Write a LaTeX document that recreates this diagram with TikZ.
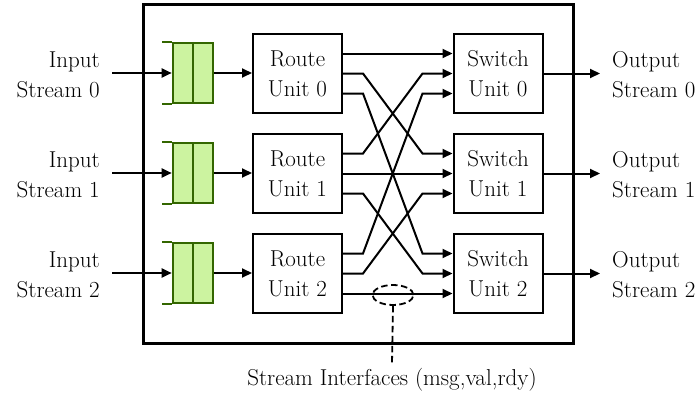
\documentclass[tikz,border=0pt]{standalone}
\usepackage{fontspec}
\usetikzlibrary{arrows.meta,calc,shapes.geometric}
\definecolor{qfill}{HTML}{CCF3A0}
\definecolor{qdraw}{HTML}{336600}
\begin{document}
\begin{tikzpicture}[x=1pt,y=-1pt,
  every node/.style={font=\fontsize{23}{30}\selectfont},
  >={Triangle[length=10pt,width=9pt]},
  wire/.style={line width=2pt},
  unitbox/.style={draw,line width=2pt,minimum width=89pt,minimum height=79pt,
    inner sep=0pt,align=center},
  queuebox/.style={draw=qdraw,fill=qfill,line width=2pt,minimum width=40.6pt,
    minimum height=60pt,inner sep=0pt},
  qline/.style={draw=qdraw,line width=2pt},
  bundle/.style={draw,dashed,dash pattern=on 6.5pt off 3.5pt,line width=1.8pt,
    ellipse,minimum width=41pt,minimum height=20pt,inner sep=0pt}]
\useasboundingbox (0,0) rectangle (700,396);

% enclosing block
\draw[line width=3pt] (143,5) rectangle (573,343);

\foreach \i in {0,1,2}{
  % input queue, route unit, switch unit
  \node[queuebox] (q\i) at (193,{73+100*\i}) {};
  \draw[qline] (q\i.north) -- (q\i.south);
  \draw[qline] (q\i.north west) -- ++(-10,0);
  \draw[qline] (q\i.south west) -- ++(-10,0);
  \node[unitbox] (r\i) at (297.5,{73.5+100*\i}) {Route\\Unit \i};
  \node[unitbox] (s\i) at (498,{73.5+100*\i}) {Switch\\Unit \i};
  % stream labels
  \node[anchor=east,align=right,inner sep=0pt] (in\i) at (100,{75+100*\i}) {Input\\Stream \i};
  \node[anchor=west,align=left,inner sep=0pt] (out\i) at (612,{75+100*\i}) {Output\\Stream \i};
  \draw[wire,->] ([xshift=12pt]in\i.east |- q\i.west) -- (q\i.west);
  \draw[wire,->] (q\i.east) -- (q\i.east -| r\i.west);
  \draw[wire,->] (s\i.east) -- ([xshift=-12pt]out\i.west |- s\i.east);
}

% crossbar between route and switch units
\foreach \i in {0,1,2}{
  \foreach \j in {0,1,2}{
    \coordinate (ro\i\j) at ($(r\i.east)+(0,{20*(\j-1)})$);
    \coordinate (si\j\i) at ($(s\j.west)+(0,{20*(\i-1)})$);
    \draw[wire,->] (ro\i\j) -- ([xshift=20pt]ro\i\j) -- ([xshift=-30pt]si\j\i) -- (si\j\i);
  }
}

% interface annotation
\node[bundle] (bus) at (393,295) {};
\node[inner sep=0pt] (lbl) at (392,380) {Stream Interfaces (msg,val,rdy)};
\draw[line width=1.8pt,dash pattern=on 6.5pt off 3.5pt] (bus.south) -- ([yshift=5pt]lbl.north);
\end{tikzpicture}
\end{document}
